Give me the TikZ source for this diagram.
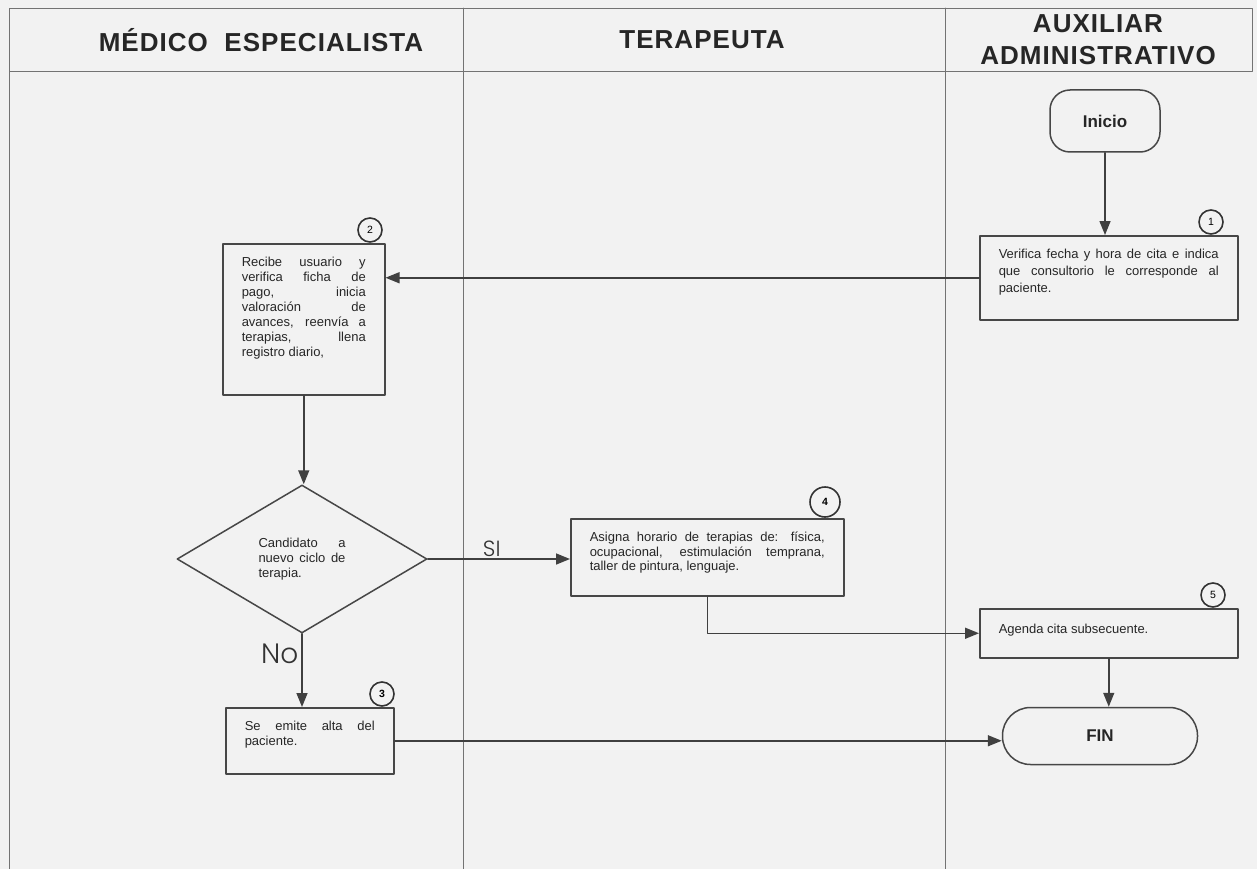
\documentclass[tikz,border=0pt]{standalone}
\usepackage{fontspec}
\setmainfont{Liberation Sans}
\newfontfamily\titfont{Liberation Sans}[LetterSpace=4]
\IfFontExistsTF{Poppins Light}{\newfontfamily\etiqfont{Poppins Light}}{\newfontfamily\etiqfont{Poppins}}
\usepackage{xcolor}
\usepackage{tikz}
\usetikzlibrary{arrows.meta, calc, shapes.geometric}
\hyphenpenalty=10000
\exhyphenpenalty=10000
\tolerance=10000
\hbadness=10000
\vbadness=10000
\newcommand{\cajatxt}[3]{\parbox[c][#2][t]{#1}{#3}}

\begin{document}
\begin{tikzpicture}[x=1pt, y=-1pt, line cap=round, line join=round,
	linea/.style={draw=black!55, line width=0.9pt},
	caja/.style={draw=black!72, line width=1.5pt, inner xsep=19pt, inner ysep=13.5pt, anchor=north west, text=black!85},
	paso/.style={circle, draw=black!80, line width=1.6pt, minimum size=24pt, inner sep=0pt, font=\fontsize{10.5}{10.5}\selectfont},
	terminal/.style={draw=black!72, line width=1.5pt, font=\bfseries\fontsize{17}{17}\selectfont, text=black!85},
	titulo/.style={font=\titfont\bfseries\fontsize{26}{32}\selectfont, text=black!85, align=center},
	flecha/.style={draw=black!75, line width=1.5pt, -{Triangle[length=14pt, width=11pt]}},
	etiq/.style={font=\etiqfont\fontsize{22}{22}\selectfont, text=black!80}]
				\useasboundingbox[fill=black!5] (0,0) rectangle (1257,869);
				% carriles
				\draw[linea] (9,8) rectangle (1252,71);
				\draw[linea] (9,71)--(9,869);
				\draw[linea] (463,8)--(463,869);
				\draw[linea] (945,8)--(945,869);
				\node[titulo] (h1) at (261,40) {MÉDICO\ \ ESPECIALISTA};
				\node[titulo] (h2) at (702,40) {TERAPEUTA};
				\node[titulo] (h3) at (1098,40) {AUXILIAR\\ADMINISTRATIVO};
				% actividades
				\node[terminal, minimum width=110pt, minimum height=62pt, rounded corners=20pt] (ini) at (1105,121) {Inicio};
				\node[caja, font=\fontsize{13}{17}\selectfont] (b1) at (979,235) {\cajatxt{220pt}{57pt}{Verifica fecha y hora de cita e indica\linebreak que consultorio le corresponde al\linebreak paciente.}};
				\node[caja, font=\fontsize{13}{15}\selectfont] (b2) at (222,243) {\cajatxt{124pt}{124pt}{Recibe usuario y\linebreak verifica ficha de\linebreak pago, inicia\linebreak valoración de\linebreak avances, reenvía a\linebreak terapias, llena\linebreak registro diario,}};
				\node[draw=black!72, line width=1.5pt, diamond, minimum width=250pt, minimum height=148pt, inner sep=0pt, font=\fontsize{13}{15}\selectfont, text=black!85] (d1) at (302,559) {\parbox{87pt}{Candidato a\linebreak nuevo ciclo de\linebreak terapia.}};
				\node[caja, font=\fontsize{13}{14.5}\selectfont] (b4) at (570,518) {\cajatxt{235pt}{50pt}{Asigna horario de terapias de: física,\linebreak ocupacional, estimulación temprana,\linebreak taller de pintura, lenguaje.}};
				\node[caja, font=\fontsize{13}{15}\selectfont] (b3) at (225,707) {\cajatxt{130pt}{39pt}{Se emite alta del\linebreak paciente.}};
				\node[caja, font=\fontsize{13}{15}\selectfont] (b5) at (979,608) {\cajatxt{220pt}{22pt}{\vspace*{2pt}Agenda cita subsecuente.}};
				\node[terminal, minimum width=195pt, minimum height=57pt, rounded corners=28pt] (fin) at (1100,736) {FIN};
				% numeros de paso
				\node[paso] (n1) at (1211,222) {1};
				\node[paso] (n2) at (370,230) {2};
				\node[paso, font=\bfseries\fontsize{10.5}{10.5}\selectfont] (n3) at (382,694) {3};
				\node[paso, minimum size=30pt, font=\bfseries\fontsize{10.5}{10.5}\selectfont] (n4) at (825,502) {4};
				\node[paso] (n5) at (1213,595) {5};
				% conectores
				\draw[flecha] (ini.south)--(ini.south |- b1.north);
				\draw[flecha] (b1.west)--(b1.west -| b2.east);
				\draw[flecha] (b2.south)--(b2.south |- d1.north);
				\draw[flecha] (d1.east)--(d1.east -| b4.west) node[etiq, pos=0.45, above, inner sep=2pt] (si) {SI};
				\draw[flecha] (d1.south)--(d1.south |- b3.north) node[etiq, pos=0.27, left, inner sep=3pt, font=\etiqfont\fontsize{28}{28}\selectfont] (no) {No};
				\draw[flecha] (b4.south) |- (b5.west);
				\draw[flecha] (b5.south)--(b5.south |- fin.north);
				\draw[flecha] (b3.east)--(b3.east -| fin.west);
			\end{tikzpicture}
\end{document}
